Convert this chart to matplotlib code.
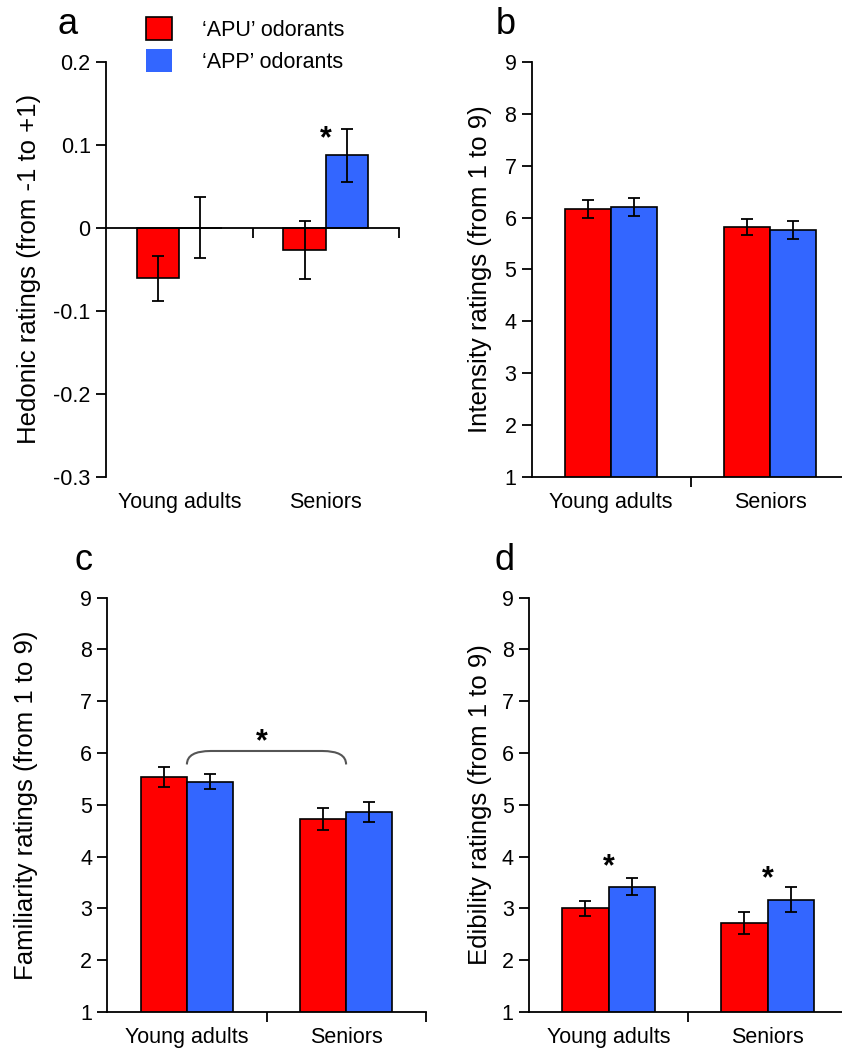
import matplotlib.pyplot as plt
from matplotlib.patches import Patch, PathPatch
from matplotlib.path import Path

plt.rcParams['font.family'] = ['Liberation Sans', 'DejaVu Sans']
plt.rcParams['axes.unicode_minus'] = False

# Datos
groups = ['Young adults', 'Seniors']
series = ["\u2018APU\u2019 odorants", "\u2018APP\u2019 odorants"]
colors = ['#FF0000', '#3366FF']

hedonic_apu = [-0.061, -0.027]
hedonic_apu_err = [0.027, 0.035]
hedonic_app = [0.0, 0.087]
hedonic_app_err = [0.037, 0.032]

intensity_apu = [6.17, 5.82]
intensity_apu_err = [0.17, 0.15]
intensity_app = [6.20, 5.76]
intensity_app_err = [0.17, 0.17]

familiarity_apu = [5.54, 4.73]
familiarity_apu_err = [0.19, 0.21]
familiarity_app = [5.45, 4.86]
familiarity_app_err = [0.14, 0.20]

edibility_apu = [3.00, 2.72]
edibility_apu_err = [0.15, 0.21]
edibility_app = [3.42, 3.17]
edibility_app_err = [0.17, 0.24]

W, H = 842, 1054
fig = plt.figure(figsize=(W / 100, H / 100), dpi=100)


def px_axes(left, top, right, bottom):
    return fig.add_axes([left / W, 1 - bottom / H, (right - left) / W, (bottom - top) / H])


def draw_bars(ax, apu, apu_err, app, app_err):
    x = range(len(groups))
    w = 0.29
    ekw = dict(ecolor='black', elinewidth=1.3, capsize=4, capthick=1.3)
    ax.bar([i - w / 2 for i in x], apu, w, yerr=apu_err, color=colors[0],
           edgecolor='black', linewidth=1.2, error_kw=ekw, zorder=2)
    ax.bar([i + w / 2 for i in x], app, w, yerr=app_err, color=colors[1],
           edgecolor='black', linewidth=1.2, error_kw=ekw, zorder=2)
    ax.set_xlim(-0.5, 1.5)
    for s in ['top', 'right']:
        ax.spines[s].set_visible(False)
    for s in ['left', 'bottom']:
        ax.spines[s].set_linewidth(1.3)
    ax.tick_params(axis='y', direction='out', length=7, width=1.3, labelsize=15.5, pad=4)
    ax.set_xticks([0.5, 1.5])
    ax.set_xticklabels([])
    ax.tick_params(axis='x', direction='out', length=7, width=1.3)


def group_labels(ax):
    sec = ax.secondary_xaxis('bottom')
    sec.set_xticks([0, 1])
    sec.set_xticklabels(groups, fontsize=15.5)
    sec.tick_params(length=0, pad=11)
    sec.spines['bottom'].set_visible(False)


def ratings_panel(ax, apu, apu_err, app, app_err, ylabel, lx):
    draw_bars(ax, apu, apu_err, app, app_err)
    ax.set_ylim(1, 9)
    ax.set_yticks(range(1, 10))
    group_labels(ax)
    ax.set_ylabel(ylabel, fontsize=18.5)
    ax.yaxis.set_label_coords(lx, 0.5)


def star(ax, x, y):
    ax.text(x, y, '*', ha='center', va='center', fontsize=22, fontweight='bold')


# a - hedonic
ax_a = px_axes(106, 61.7, 399, 476.7)
draw_bars(ax_a, hedonic_apu, hedonic_apu_err, hedonic_app, hedonic_app_err)
ax_a.set_ylim(-0.3, 0.2)
yt = [-0.3, -0.2, -0.1, 0, 0.1, 0.2]
ax_a.set_yticks(yt)
ax_a.set_yticklabels(['{:g}'.format(v) for v in yt])
ax_a.spines['bottom'].set_position(('data', 0))
group_labels(ax_a)
ax_a.set_ylabel('Hedonic ratings (from -1 to +1)', fontsize=18.5)
ax_a.yaxis.set_label_coords(-0.222, 0.5)
star(ax_a, 1, 0.107)

handles = [Patch(facecolor=colors[0], edgecolor='black', linewidth=1.2),
           Patch(facecolor=colors[1], edgecolor='none')]
fig.legend(handles, series, loc='upper left', bbox_to_anchor=(146 / W, 1 - 17 / H),
           frameon=False, fontsize=15.5, handlelength=1.2, handleheight=1.25,
           handletextpad=1.4, labelspacing=0.4, borderpad=0, borderaxespad=0)

# b - intensity
ax_b = px_axes(531.7, 62, 849.7, 476.7)
ratings_panel(ax_b, intensity_apu, intensity_apu_err, intensity_app, intensity_app_err,
              'Intensity ratings (from 1 to 9)', -0.125)

# c - familiarity
ax_c = px_axes(107.3, 597.7, 425.7, 1012)
ratings_panel(ax_c, familiarity_apu, familiarity_apu_err, familiarity_app, familiarity_app_err,
              'Familiarity ratings (from 1 to 9)', -0.218)
# llave entre grupos
y_top, y_end, r = 6.04, 5.78, 0.15
verts = [(0, y_end), (0, y_top), (r, y_top), (1 - r, y_top), (1, y_top), (1, y_end)]
codes = [Path.MOVETO, Path.CURVE3, Path.CURVE3, Path.LINETO, Path.CURVE3, Path.CURVE3]
ax_c.add_patch(PathPatch(Path(verts, codes), facecolor='none', edgecolor='#555555', linewidth=1.5))
star(ax_c, 0.47, 6.2)

# d - edibility
ax_d = px_axes(529, 597.7, 847, 1012)
ratings_panel(ax_d, edibility_apu, edibility_apu_err, edibility_app, edibility_app_err,
              'Edibility ratings (from 1 to 9)', -0.115)
star(ax_d, 0, 3.80)
star(ax_d, 1, 3.57)

# letras de panel
for lbl, x, y in [('a', 68, 25), ('b', 506, 25), ('c', 83, 560), ('d', 504, 560)]:
    fig.text(x / W, 1 - y / H, lbl, ha='center', va='center', fontsize=26)

plt.savefig('out.png', dpi=100)
